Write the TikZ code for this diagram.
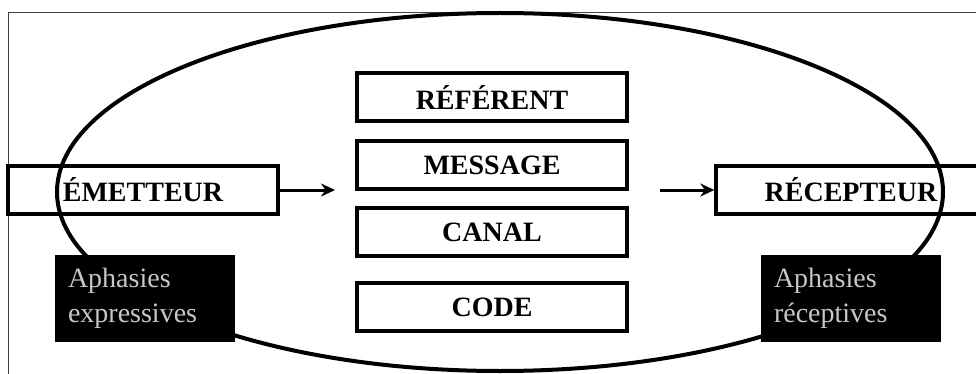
\documentclass[tikz,border=0pt]{standalone}
\usepackage{fontspec}
\setmainfont{Liberation Serif}
\usetikzlibrary{shapes.geometric, arrows, arrows.meta}
\tikzstyle{outerframe} = [draw=black!75, line width=0.9pt]
\tikzstyle{ring} = [ellipse, draw=black, line width=4pt, minimum width=886pt, minimum height=358pt]
\tikzstyle{part} = [rectangle, minimum width=270pt, minimum height=48pt, text centered, draw=black, line width=3.4pt, font=\fontsize{28}{30}\selectfont\bfseries]
\tikzstyle{aphasia} = [rectangle, minimum width=180pt, minimum height=87pt, text width=154pt, align=left, inner xsep=13pt, fill=black, text=black!22, font=\fontsize{28}{35}\selectfont]
\tikzstyle{arrow} = [line width=3pt,->,>={Stealth[length=14pt, width=13pt]}]

\begin{document}
\begin{tikzpicture}[x=1pt, y=1pt, node distance=70pt]
    \useasboundingbox (0,0) rectangle (976,-374);
    \clip (0,0) rectangle (976,-374);
    \draw [outerframe] (8,-12) rectangle (1000,-400);

    \node (oval) [ring] at (500,-192) {};

    \node (message) [part] at (492,-165) {MESSAGE};
    \node (referent) [part, above of=message, yshift=-2pt] {RÉFÉRENT};
    \node (canal) [part, below of=message, yshift=3pt] {CANAL};
    \node (code) [part, below of=canal, yshift=-5pt] {CODE};

    \node (emetteur) [part] at (143,-190) {ÉMETTEUR};
    \node (recepteur) [part] at (851,-190) {RÉCEPTEUR};

    \node (expr) [aphasia] at (145,-298) {Aphasies\\expressives};
    \node (recep) [aphasia] at (851,-298) {Aphasies\\réceptives};

    \coordinate (msg-in) at (335,-190);
    \coordinate (msg-out) at (660,-190);

    \draw [arrow] (emetteur) -- (msg-in);
    \draw [arrow] (msg-out) -- (recepteur);
\end{tikzpicture}
\end{document}
